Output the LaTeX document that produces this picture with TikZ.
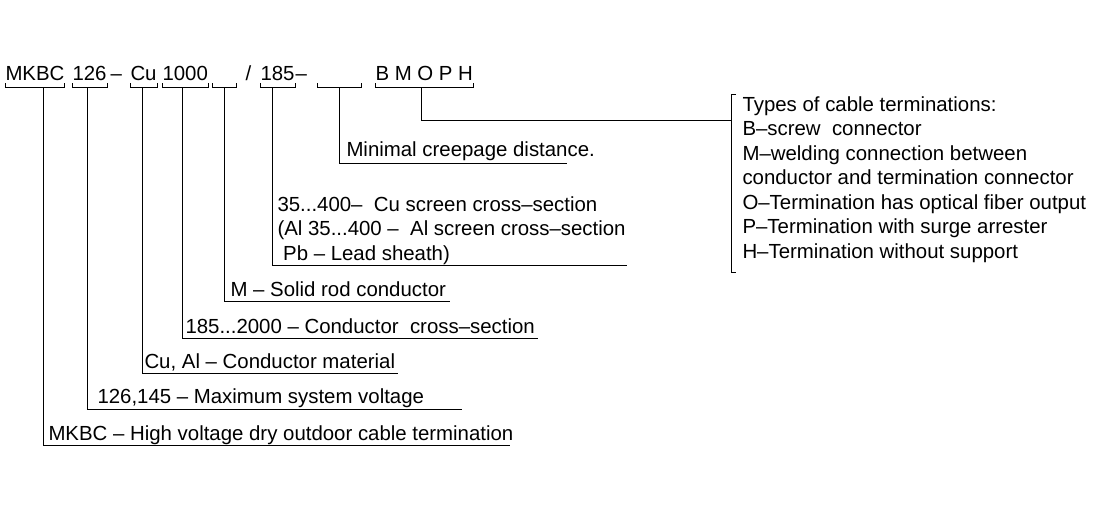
\documentclass[tikz,border=0pt]{standalone}
\usepackage{fontspec}
\setmainfont{Liberation Sans}
\usetikzlibrary{positioning}

\begin{document}
\begin{tikzpicture}[x=1pt,y=-1pt,line width=1pt,
    field/.style={inner sep=0pt,anchor=base west,font=\fontsize{20.4}{24}\selectfont},
    lab/.style={inner sep=0pt,anchor=base west,font=\fontsize{20.4}{24}\selectfont},
    list/.style={inner sep=0pt,anchor=base west,align=left,font=\fontsize{20.4}{24.5}\selectfont}]
    \useasboundingbox (0,0) rectangle (1107,522);

    % code letters
    \node[field] (A) at (5,80)   {MKBC};
    \node[field] (B) at (72,80)  {126};
    \node[field] (d1) at (110,80) {–};
    \node[field] (C) at (130,80) {Cu};
    \node[field] (D) at (162,80) {1000};
    \node[field,minimum width=23pt] (E) at (212,80) {};
    \node[field] (sl) at (245,80) {/};
    \node[field] (F) at (260,80) {185};
    \node[field] (d2) at (295,80) {–};
    \node[field,minimum width=43pt] (G) at (317,80) {};
    \node[field] (H) at (375,80) {B M O P H};

    % brackets under the letters
    \foreach \n in {A,B,C,D,E,F,G,H}
        \draw ([yshift=-3pt]\n.base west) |- ([yshift=-7pt]\n.base east) -- ([yshift=-3pt]\n.base east);

    % explanations
    \node[lab] (I) at (48,440)  {MKBC – High voltage dry outdoor cable termination};
    \node[lab] (J) at (97,403)  {126,145 – Maximum system voltage};
    \node[lab] (K) at (144,368) {Cu, Al – Conductor material};
    \node[lab] (L) at (185,333) {185...2000 – Conductor\ \ cross–section};
    \node[lab] (M) at (230,296) {M – Solid rod conductor};
    \node[list] (N) at (277,260) {35...400–\ \ Cu screen cross–section\\
        (Al 35...400 –\ \ Al screen cross–section\\
        \ Pb – Lead sheath)};
    \node[lab] (O) at (346,156) {Minimal creepage distance.};
    \node[list] (P) at (742,258) {Types of cable terminations:\\
        B–screw\ \ connector\\
        M–welding connection between\\
        conductor and termination connector\\
        O–Termination has optical fiber output\\
        P–Termination with surge arrester\\
        H–Termination without support};

    % leader lines from brackets to explanations
    \foreach \n/\x/\y/\e in {A/43/445/510, B/87/409/462, C/142/373/398, D/182/338/538,
                             E/224/301/450, F/272/265/627, G/339/163/567, H/421/120/731} {
        \coordinate (\n-top) at (\x,87);
        \coordinate (\n-end) at (\e,\y);
        \draw (\n-top) |- (\n-end);
    }

    % bracket round the list
    \coordinate (Ptop) at (731,94);
    \coordinate (Pbot) at (731,272);
    \draw ([xshift=5pt]Ptop) -- (Ptop) -- (Pbot) -- ([xshift=5pt]Pbot);
\end{tikzpicture}
\end{document}
